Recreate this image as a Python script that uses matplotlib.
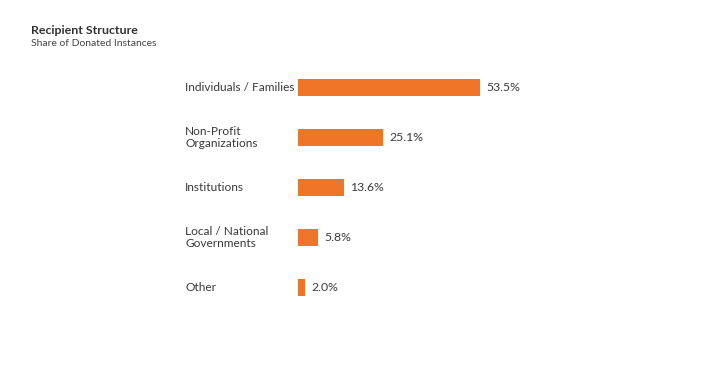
import matplotlib
matplotlib.use("Agg")
import matplotlib.pyplot as plt
import matplotlib.transforms as mtransforms

plt.rcParams['font.family'] = ['Lato', 'DejaVu Sans']

categories = ["Individuals / Families", "Non-Profit\nOrganizations", "Institutions",
              "Local / National\nGovernments", "Other"]
shares = [53.5, 25.1, 13.6, 5.8, 2.0]
value_labels = ["53.5%", "25.1%", "13.6%", "5.8%", "2.0%"]

W, H = 705, 376
fig = plt.figure(figsize=(W / 100, H / 100), dpi=100)
fig.patch.set_facecolor("white")

# axes placed in pixel terms
ax = fig.add_axes([298 / W, (H - 313) / H, 204 / W, 251 / H])
ypos = list(range(len(categories)))
ax.barh(ypos, shares, height=0.34, color="#EF7629")
ax.set_xlim(0, 60)
ax.set_ylim(len(categories) - 0.5, -0.5)
ax.axis("off")

trans = mtransforms.blended_transform_factory(fig.transFigure, ax.transData)
for y, lab in zip(ypos, categories):
    fig.text(185 / W, y, lab, transform=trans, ha="left", va="center",
             fontsize=8.6, color="#3a3a3a", linespacing=1.12)

for y, v, lab in zip(ypos, shares, value_labels):
    ax.annotate(lab, (v, y), xytext=(4.5, 0), textcoords="offset points",
                ha="left", va="center", fontsize=8.8, color="#3a3a3a")

fig.text(31 / W, 1 - 31 / H, "Recipient Structure", fontsize=8.9, fontweight="bold",
         color="#333333", ha="left", va="center")
fig.text(31 / W, 1 - 44 / H, "Share of Donated Instances", fontsize=7.5, color="#444444",
         ha="left", va="center")

fig.savefig("out.png", dpi=100)
